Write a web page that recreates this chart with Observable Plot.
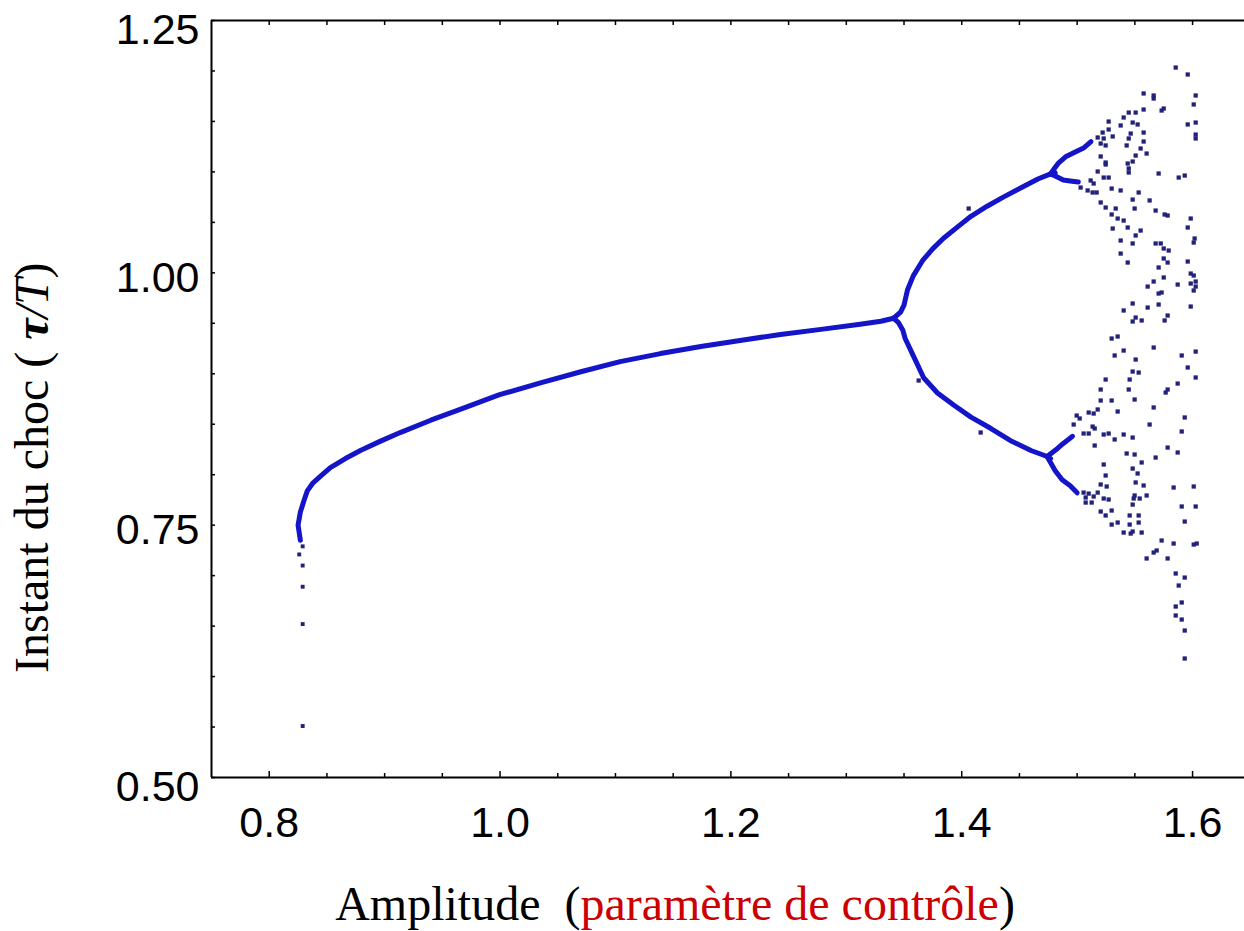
<!DOCTYPE html>
<html>
<head>
<meta charset="utf-8">
<script src="https://cdn.jsdelivr.net/npm/d3@7"></script>
<script src="https://cdn.jsdelivr.net/npm/@observablehq/plot@0.6"></script>
<style>
  html, body { margin: 0; padding: 0; background: #fff; }
  #chart { width: 1244px; height: 931px; }
</style>
</head>
<body>
<div id="chart"></div>
<script>
// ---- tick values ----
const xMajor = [0.8, 1.0, 1.2, 1.4, 1.6];
const xMinor = [0.85, 0.9, 0.95, 1.05, 1.1, 1.15, 1.25, 1.3, 1.35, 1.45, 1.5, 1.55];
const yMajor = [0.5, 0.75, 1.0, 1.25];
const yMinor = [0.55, 0.6, 0.65, 0.7, 0.8, 0.85, 0.9, 0.95, 1.05, 1.1, 1.15, 1.2];

// ---- period-1 branch ----
const p1A = [0.827, 0.825, 0.827, 0.830, 0.833, 0.838, 0.845, 0.853, 0.866, 0.879, 0.896, 0.914, 0.940, 0.966, 0.999, 1.035, 1.070, 1.104, 1.139, 1.174, 1.208, 1.243, 1.278, 1.312, 1.330, 1.341];
const p1T = [0.735, 0.750, 0.763, 0.774, 0.784, 0.792, 0.799, 0.807, 0.816, 0.824, 0.833, 0.842, 0.854, 0.865, 0.879, 0.891, 0.902, 0.912, 0.920, 0.927, 0.933, 0.939, 0.944, 0.949, 0.952, 0.955];
// isolated points below the onset
const tailA = [0.829, 0.826, 0.829, 0.829, 0.829, 0.829];
const tailT = [0.729, 0.721, 0.710, 0.689, 0.652, 0.551];

// ---- period-2 branches ----
const p2upA = [1.341, 1.347, 1.350, 1.353, 1.358, 1.366, 1.375, 1.384, 1.397, 1.408, 1.422, 1.436, 1.451, 1.466, 1.477, 1.481];
const p2upT = [0.955, 0.961, 0.968, 0.983, 0.997, 1.012, 1.024, 1.034, 1.046, 1.056, 1.066, 1.075, 1.084, 1.093, 1.098, 1.099];
const p2loA = [1.341, 1.345, 1.349, 1.351, 1.358, 1.367, 1.379, 1.393, 1.408, 1.425, 1.442, 1.460, 1.474, 1.477];
const p2loT = [0.955, 0.951, 0.943, 0.935, 0.918, 0.896, 0.881, 0.869, 0.857, 0.846, 0.834, 0.824, 0.818, 0.816];

// ---- period-4 branches ----
const p4aA = [1.477, 1.480, 1.484, 1.490, 1.497, 1.506, 1.512];
const p4aT = [1.098, 1.103, 1.109, 1.115, 1.119, 1.124, 1.130];
const p4bA = [1.477, 1.481, 1.488, 1.494, 1.501];
const p4bT = [1.098, 1.096, 1.092, 1.091, 1.090];
const p4cA = [1.474, 1.483, 1.488, 1.496];
const p4cT = [0.818, 0.826, 0.831, 0.838];
const p4dA = [1.474, 1.481, 1.487, 1.494, 1.500];
const p4dT = [0.818, 0.804, 0.795, 0.789, 0.782];

// ---- scattered (chaotic) points ----
const chaosA = [
  1.5854, 1.5958, 1.5663, 1.5663, 1.6027, 1.5576, 1.6010, 1.5750, 1.5732, 1.5447,
  1.5507, 1.5576, 1.5403, 1.5958, 1.6027, 1.5273, 1.5377, 1.5481, 1.5524, 1.6027,
  1.6027, 1.5221, 1.5273, 1.5308, 1.5464, 1.5576, 1.5178, 1.5230, 1.5447, 1.5576,
  1.5204, 1.5247, 1.5429, 1.5550, 1.5602, 1.5507, 1.5204, 1.5247, 1.5247, 1.5438,
  1.5481, 1.5447, 1.5447, 1.5706, 1.5880, 1.5932, 1.5178, 1.5230, 1.5273, 1.5117,
  1.5143, 1.5030, 1.5091, 1.5134, 1.5299, 1.5377, 1.5533, 1.5169, 1.5204, 1.5247,
  1.5481, 1.5628, 1.5334, 1.5498, 1.5680, 1.5758, 1.5784, 1.5299, 1.5351, 1.5403,
  1.5984, 1.5958, 1.5308, 1.5438, 1.5550, 1.5507, 1.6018, 1.6010, 1.5377, 1.5481,
  1.5680, 1.5724, 1.5750, 1.5793, 1.5377, 1.5438, 1.5750, 1.5784, 1.5958, 1.5706,
  1.5984, 1.6010, 1.6027, 1.5984, 1.6027, 1.6010, 1.5663, 1.5750, 1.5611, 1.5871,
  1.5706, 1.5732, 1.5481, 1.5611, 1.5706, 1.5984, 1.5403, 1.5507, 1.5481, 1.5559,
  1.5758, 1.5784, 1.5299, 1.5351, 1.5403, 1.5325, 1.5663, 1.5906, 1.6027, 1.5507,
  1.5958, 1.5481, 1.5533, 1.5247, 1.5455, 1.6027, 1.5204, 1.5447, 1.5767, 1.5784,
  1.5871, 1.5204, 1.5299, 1.5498, 1.5663, 1.5178, 1.5100, 1.5143, 1.4996, 1.5022,
  1.5351, 1.5932, 1.4970, 1.5134, 1.5152, 1.5628, 1.5906, 1.5056, 1.5100, 1.5230,
  1.5273, 1.5403, 1.5481, 1.5325, 1.5152, 1.5784, 1.5871, 1.5429, 1.5498, 1.5680,
  1.5559, 1.5230, 1.5481, 1.5247, 1.5524, 1.5204, 1.5256, 1.5507, 1.5576, 1.5836,
  1.6010, 1.5056, 1.5100, 1.5074, 1.5074, 1.5143, 1.5126, 1.5178, 1.5230, 1.5273,
  1.5498, 1.5490, 1.5542, 1.5602, 1.5481, 1.5906, 1.6027, 1.5204, 1.5299, 1.5247,
  1.5455, 1.5533, 1.5932, 1.5533, 1.5351, 1.5299, 1.5455, 1.5403, 1.5464, 1.5481,
  1.5559, 1.5732, 1.5836, 1.6010, 1.6036, 1.5689, 1.5663, 1.5602, 1.5784, 1.5854,
  1.5932, 1.5880, 1.5906, 1.5854, 1.5854, 1.5906, 1.5932, 1.5932, 1.3627, 1.4164,
  1.4060
];
const chaosT = [
  1.2034, 1.1965, 1.1757, 1.1727, 1.1757, 1.1777, 1.1668, 1.1628, 1.1608, 1.1588,
  1.1588, 1.1618, 1.1539, 1.1470, 1.1489, 1.1499, 1.1460, 1.1489, 1.1470, 1.1370,
  1.1331, 1.1390, 1.1420, 1.1351, 1.1380, 1.1390, 1.1341, 1.1331, 1.1331, 1.1301,
  1.1281, 1.1262, 1.1262, 1.1232, 1.1182, 1.1162, 1.1153, 1.1093, 1.1073, 1.1083,
  1.1103, 1.1034, 1.0994, 1.0984, 1.0944, 1.0964, 1.1004, 1.0944, 1.0944, 1.0915,
  1.0885, 1.0845, 1.0816, 1.0796, 1.0835, 1.0816, 1.0796, 1.0796, 1.0697, 1.0647,
  1.0726, 1.0717, 1.0637, 1.0637, 1.0617, 1.0578, 1.0568, 1.0578, 1.0538, 1.0518,
  1.0538, 1.0449, 1.0439, 1.0449, 1.0419, 1.0370, 1.0340, 1.0300, 1.0320, 1.0291,
  1.0291, 1.0291, 1.0241, 1.0221, 1.0191, 1.0102, 1.0142, 1.0102, 1.0112, 1.0053,
  0.9993, 0.9973, 0.9914, 0.9894, 0.9864, 0.9825, 0.9914, 0.9954, 0.9864, 0.9884,
  0.9795, 0.9805, 0.9696, 0.9656, 0.9686, 0.9666, 0.9627, 0.9557, 0.9518, 0.9528,
  0.9528, 0.9577, 0.9349, 0.9369, 0.9230, 0.9181, 0.9260, 0.9181, 0.9220, 0.9141,
  0.9062, 0.9022, 0.9012, 0.8943, 0.8943, 0.8963, 0.8844, 0.8844, 0.8814, 0.8844,
  0.8903, 0.8735, 0.8735, 0.8745, 0.8666, 0.8646, 0.8616, 0.8606, 0.8586, 0.8557,
  0.8626, 0.8567, 0.8497, 0.8477, 0.8458, 0.8497, 0.8428, 0.8408, 0.8408, 0.8398,
  0.8408, 0.8398, 0.8368, 0.8349, 0.8289, 0.8269, 0.8220, 0.8210, 0.8200, 0.8170,
  0.8121, 0.8101, 0.8061, 0.7992, 0.8012, 0.7903, 0.7883, 0.7923, 0.7893, 0.7873,
  0.7883, 0.7823, 0.7813, 0.7774, 0.7724, 0.7784, 0.7724, 0.7823, 0.7764, 0.7754,
  0.7794, 0.7764, 0.7764, 0.7794, 0.7704, 0.7685, 0.7685, 0.7635, 0.7645, 0.7596,
  0.7596, 0.7596, 0.7536, 0.7526, 0.7526, 0.7506, 0.7506, 0.7427, 0.7417, 0.7437,
  0.7427, 0.7348, 0.7318, 0.7308, 0.7318, 0.7249, 0.7229, 0.7170, 0.7170, 0.7021,
  0.6981, 0.6902, 0.6734, 0.6694, 0.6605, 0.6565, 0.6456, 0.6179, 0.8933, 0.8418,
  1.0637
];

const branchColor = "#1414c8";
const dotColor = "#22227a";
const tickFont = "'Liberation Sans', Arial, Helvetica, sans-serif";

const branches = [[p1A, p1T], [p2upA, p2upT], [p2loA, p2loT], [p4aA, p4aT], [p4bA, p4bT], [p4cA, p4cT], [p4dA, p4dT]];

const px = d => d[0], py = d => d[1];

const chart = Plot.plot({
  width: 1244,
  height: 931,
  marginLeft: 211,
  marginRight: 0,
  marginTop: 20,
  marginBottom: 154,
  style: { fontFamily: tickFont, background: "#fff", overflow: "visible" },
  x: { domain: [0.75, 1.645] },
  y: { domain: [0.5, 1.25] },
  marks: [
    // frame (left, top, bottom)
    Plot.ruleY([0.5, 1.25], { stroke: "#000", strokeWidth: 2 }),
    Plot.ruleX([0.75], { stroke: "#000", strokeWidth: 2 }),
    // inward ticks
    Plot.axisX(xMajor, { anchor: "bottom", tickSize: -6, strokeWidth: 1.5, tickFormat: () => "", label: null }),
    Plot.axisX(xMinor, { anchor: "bottom", tickSize: -4, strokeWidth: 1.5, tickFormat: () => "", label: null }),
    Plot.axisX(xMajor.concat(xMinor), { anchor: "top", tickSize: -4, strokeWidth: 1.5, tickFormat: () => "", label: null }),
    Plot.axisY(yMajor.concat(yMinor), { anchor: "left", tickSize: -4, strokeWidth: 1.5, tickFormat: () => "", label: null }),
    // tick labels
    Plot.axisX(xMajor, { anchor: "bottom", tickSize: 0, tickPadding: 29, tickFormat: d3.format(".1f"), fontSize: 43, fontFamily: tickFont, fill: "#000", label: null }),
    Plot.axisY([0.75, 1.0], { anchor: "left", tickSize: 0, tickPadding: 12, dy: 5, tickFormat: d3.format(".2f"), fontSize: 43, fontFamily: tickFont, fill: "#000", label: null }),
    Plot.axisY([0.5, 1.25], { anchor: "left", tickSize: 0, tickPadding: 12, dy: 10, tickFormat: d3.format(".2f"), fontSize: 43, fontFamily: tickFont, fill: "#000", label: null }),
    // branches
    ...branches.map(([a, t]) => Plot.line(d3.zip(a, t), { x: px, y: py, stroke: branchColor, strokeWidth: 5, strokeLinejoin: "round", strokeLinecap: "round" })),
    // isolated points
    Plot.dot(d3.zip(tailA, tailT), { x: px, y: py, symbol: "square", r: 2.2, fill: dotColor }),
    Plot.dot(d3.zip(chaosA, chaosT), { x: px, y: py, symbol: "square", r: 2.4, fill: dotColor })
  ]
});

// axis titles
const svg = d3.select(chart);
const serif = "'Liberation Serif', 'Times New Roman', Times, serif";
const xt = svg.append("text")
  .attr("x", 675).attr("y", 920)
  .attr("text-anchor", "middle")
  .style("font-family", serif).style("font-size", "48px").attr("fill", "#000");
xt.append("tspan").text("Amplitude\u00a0\u00a0(");
xt.append("tspan").attr("fill", "#cc0000").text("paramètre de contrôle");
xt.append("tspan").text(")");

const yt = svg.append("text")
  .attr("transform", "translate(48,673) rotate(-90)")
  .attr("text-anchor", "start")
  .style("font-family", serif).style("font-size", "48px").attr("fill", "#000");
yt.append("tspan").text("Instant du choc (\u00a0");
yt.append("tspan").style("font-style", "italic").style("font-weight", "bold").text("τ");
yt.append("tspan").style("font-style", "italic").text("/T");
yt.append("tspan").text(")");

document.getElementById("chart").appendChild(chart);
</script>
</body>
</html>
